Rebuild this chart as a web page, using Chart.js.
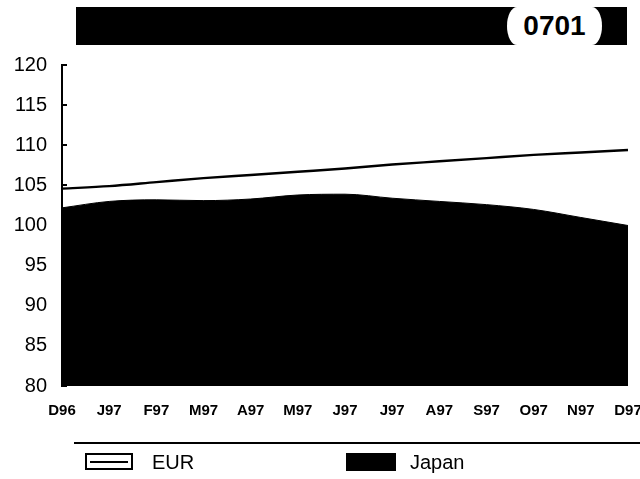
<!DOCTYPE html>
<html>
<head>
<meta charset="utf-8">
<script src="https://cdn.jsdelivr.net/npm/chart.js@4/dist/chart.umd.min.js"></script>
<style>
  html, body { margin: 0; padding: 0; background: #fff; overflow: hidden; width: 640px; height: 479px; }
  #wrap { position: relative; width: 660px; height: 479px; }
  #chart { position: absolute; left: 0; top: 0; }
  #titlebar { position: absolute; left: 76px; top: 7px; width: 551px; height: 38px; background: #000; }
  #code { position: absolute; left: 431px; top: 0; width: 95px; height: 38px; background: #fff;
          border-radius: 10px / 19px; font-family: "Liberation Sans Narrow", "Liberation Sans", Arial, sans-serif; font-weight: bold;
          font-size: 28px; line-height: 38px; text-align: center; color: #000; }
  #rule { position: absolute; left: 74px; top: 442px; width: 580px; height: 2px; background: #000; }
  .lg { position: absolute; top: 452px; font-family: "Liberation Sans", Arial, sans-serif; font-size: 20px; color: #000; line-height: 20px; }
  .box { position: absolute; top: 453px; box-sizing: border-box; }
  #boxEur { left: 85px; width: 48px; height: 17px; border: 2px solid #000; background: #fff; }
  #boxEur::after { content: ""; position: absolute; left: 3px; right: 3px; top: 6px; height: 2px; background: #000; }
  #boxJp { left: 346px; width: 50px; height: 18px; background: #000; }
</style>
</head>
<body>
<div id="wrap">
  <canvas id="chart" width="660" height="479"></canvas>
  <div id="titlebar"><div id="code">0701</div></div>
  <div id="rule"></div>
  <div class="box" id="boxEur"></div><div class="lg" id="lgEur" style="left:152px;">EUR</div>
  <div class="box" id="boxJp"></div><div class="lg" id="lgJp" style="left:410px;">Japan</div>
</div>
<script>
const months = ["D96","J97","F97","M97","A97","M97","J97","J97","A97","S97","O97","N97","D97"];
const eurValues = [104.6,104.9,105.4,105.9,106.3,106.7,107.1,107.6,108.0,108.4,108.8,109.1,109.4];
const japanValues = [102.2,103.0,103.2,103.1,103.3,103.8,103.9,103.4,103.0,102.6,102.0,101.0,100.0];
const yTicks = [80,85,90,95,100,105,110,115,120];
const seriesNames = ["EUR","Japan"];

const innerTicks = {
  id: 'innerTicks',
  afterDatasetsDraw(chart) {
    const y = chart.scales.y, ctx = chart.ctx;
    ctx.save();
    ctx.strokeStyle = '#000';
    ctx.lineWidth = 2;
    yTicks.forEach(v => {
      const py = Math.round(y.getPixelForValue(v));
      ctx.beginPath();
      ctx.moveTo(y.right, py);
      ctx.lineTo(y.right + 5, py);
      ctx.stroke();
    });
    ctx.restore();
  }
};

new Chart(document.getElementById('chart'), {
  type: 'line',
  data: {
    labels: months,
    datasets: [
      { label: seriesNames[0], data: eurValues, borderColor: '#000', borderWidth: 2.4, pointRadius: 0,
        fill: false, cubicInterpolationMode: 'monotone' },
      { label: seriesNames[1], data: japanValues, borderColor: '#000', backgroundColor: '#000', borderWidth: 1,
        pointRadius: 0, fill: 'start', cubicInterpolationMode: 'monotone' }
    ]
  },
  options: {
    responsive: false,
    animation: false,
    events: [],
    layout: { padding: { left: 0, right: 32, top: 65, bottom: 0 } },
    plugins: { legend: { display: false }, tooltip: { enabled: false }, title: { display: false } },
    scales: {
      x: {
        offset: false,
        grid: { display: false, drawTicks: false },
        border: { display: false },
        ticks: { autoSkip: false, maxRotation: 0, minRotation: 0, padding: 16, color: '#000',
                 font: { family: "'Liberation Sans', Arial, sans-serif", size: 15, weight: 'bold' } },
        afterFit(s) { s.height = 93; }
      },
      y: {
        min: 80, max: 120,
        afterBuildTicks(s) { s.ticks = yTicks.map(v => ({ value: v })); },
        grid: { display: true, drawOnChartArea: false, drawTicks: false },
        border: { display: true, color: '#000', width: 2 },
        ticks: { padding: 15, color: '#000',
                 font: { family: "'Liberation Sans', Arial, sans-serif", size: 20 } },
        afterFit(s) { s.width = 62; }
      }
    }
  },
  plugins: [innerTicks]
});
</script>
</body>
</html>
